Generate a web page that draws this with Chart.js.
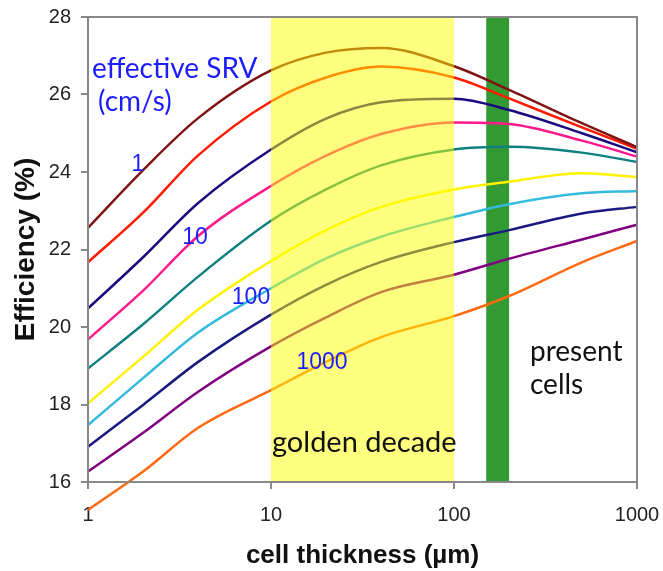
<!DOCTYPE html>
<html>
<head>
<meta charset="utf-8">
<script src="https://cdn.jsdelivr.net/npm/chart.js@4.4.1/dist/chart.umd.min.js"></script>
<style>
  html, body { margin: 0; padding: 0; background: #fff; }
  #wrap { width: 663px; height: 571px; }
</style>
</head>
<body>
<div id="wrap"><canvas id="eff" width="663" height="571"></canvas></div>
<script>
// cell thickness (um) sampled along the log axis
const thickness = [1, 2, 4, 10, 20, 40, 100, 200, 500, 1000];

// efficiency (%) per effective SRV (cm/s)
const srv1    = [22.56, 24.05, 25.39, 26.62, 27.08, 27.20, 26.73, 26.12, 25.26, 24.64];
const srv2    = [21.67, 22.95, 24.43, 25.82, 26.44, 26.72, 26.44, 25.90, 25.15, 24.60];
const srv5    = [20.48, 21.80, 23.20, 24.58, 25.38, 25.80, 25.89, 25.60, 25.00, 24.51];
const srv10   = [19.68, 20.94, 22.35, 23.64, 24.42, 24.98, 25.28, 25.24, 24.81, 24.40];
const srv20   = [18.93, 20.07, 21.30, 22.74, 23.55, 24.17, 24.58, 24.65, 24.50, 24.26];
const srv50   = [18.03, 19.23, 20.45, 21.70, 22.50, 23.10, 23.55, 23.75, 23.97, 23.87];
const srv100  = [17.47, 18.68, 19.86, 21.00, 21.77, 22.33, 22.84, 23.17, 23.45, 23.51];
const srv200  = [16.91, 17.99, 19.10, 20.32, 21.09, 21.68, 22.19, 22.50, 22.93, 23.10];
const srv500  = [16.27, 17.27, 18.33, 19.50, 20.25, 20.90, 21.35, 21.76, 22.26, 22.64];
const srv1000 = [15.28, 16.27, 17.40, 18.37, 19.10, 19.74, 20.28, 20.80, 21.67, 22.22];

const srvValues = [1, 2, 5, 10, 20, 50, 100, 200, 500, 1000];
const srvSeries = [srv1, srv2, srv5, srv10, srv20, srv50, srv100, srv200, srv500, srv1000];
const lineColors = ['#801414', '#ff1a00', '#1a0a80', '#ff1a8c', '#108080',
                    '#fff200', '#33bbdd', '#1a1a80', '#800080', '#ff6a10'];

const xTicks = [1, 10, 100, 1000];
const goldenDecade = [10, 100];
const presentCells = [150, 200];

const tickFont = { family: 'Liberation Sans, Arial, sans-serif', size: 20 };

// green strip (present cells) sits behind the curves
const bandsBehind = {
    id: 'bandsBehind',
    beforeDatasetsDraw(chart) {
        const { ctx, chartArea: a, scales: { x } } = chart;
        ctx.save();
        ctx.fillStyle = '#339933';
        const x0 = x.getPixelForValue(presentCells[0]);
        const x1 = x.getPixelForValue(presentCells[1]);
        ctx.fillRect(x0, a.top, x1 - x0, a.bottom - a.top);
        ctx.restore();
    }
};

// translucent yellow decade over the curves, frame, and text notes
const overlay = {
    id: 'overlay',
    afterDatasetsDraw(chart) {
        const { ctx, chartArea: a, scales: { x } } = chart;
        ctx.save();
        ctx.fillStyle = 'rgba(255, 255, 0, 0.5)';
        const x0 = x.getPixelForValue(goldenDecade[0]);
        const x1 = x.getPixelForValue(goldenDecade[1]);
        ctx.fillRect(x0, a.top, x1 - x0, a.bottom - a.top);

        ctx.strokeStyle = '#888';
        ctx.lineWidth = 2;
        ctx.strokeRect(a.left, a.top, a.right - a.left, a.bottom - a.top);

        ctx.textBaseline = 'middle';
        ctx.textAlign = 'left';
        ctx.fillStyle = '#1c1cff';
        ctx.font = '28px Lato, "Open Sans", sans-serif';
        ctx.fillText('effective SRV', 92, 69);
        ctx.fillText('(cm/s)', 98, 102);

        ctx.textAlign = 'center';
        ctx.font = '23px "Liberation Sans", Arial, sans-serif';
        ctx.fillText('1', 138, 165);
        ctx.fillText('10', 195, 238);
        ctx.fillText('100', 251, 298);
        ctx.fillText('1000', 322, 363);

        ctx.fillStyle = '#111';
        ctx.textAlign = 'left';
        ctx.font = '29px Lato, "Open Sans", sans-serif';
        ctx.fillText('golden decade', 272, 443);
        ctx.font = '28px Lato, "Open Sans", sans-serif';
        ctx.fillText('present', 530, 352);
        ctx.fillText('cells', 530, 385);
        ctx.restore();
    }
};

const datasets = srvSeries.map((vals, i) => ({
    label: srvValues[i] + ' cm/s',
    data: thickness.map((t, j) => ({ x: t, y: vals[j] })),
    borderColor: lineColors[i],
    borderWidth: 2.5,
    pointRadius: 0,
    fill: false,
    cubicInterpolationMode: 'monotone',
    clip: false
}));

new Chart(document.getElementById('eff'), {
    type: 'line',
    data: { datasets },
    options: {
        responsive: false,
        animation: false,
        layout: { padding: { top: 17, right: 26, left: 0, bottom: 0 } },
        plugins: { legend: { display: false }, tooltip: { enabled: false } },
        scales: {
            x: {
                type: 'logarithmic',
                min: 1,
                max: 1000,
                afterBuildTicks: axis => { axis.ticks = xTicks.map(v => ({ value: v })); },
                afterFit: s => { s.height = 89; s.paddingLeft = 0; s.paddingRight = 0; },
                ticks: {
                    autoSkip: false,
                    maxRotation: 0,
                    padding: 14,
                    color: '#222',
                    font: tickFont,
                    callback: v => String(v)
                },
                grid: { drawOnChartArea: false, tickLength: 7, color: '#888', lineWidth: 2 },
                border: { color: '#888', width: 2 },
                title: {
                    display: true, text: 'cell thickness (µm)', color: '#111',
                    font: { family: 'Liberation Sans, Arial, sans-serif', size: 26, weight: 'bold' },
                    padding: { top: 0, bottom: 0 }
                }
            },
            y: {
                min: 16,
                max: 28,
                afterFit: s => { s.width = 88; s.paddingTop = 0; s.paddingBottom = 0; },
                ticks: { stepSize: 2, padding: 10, color: '#222', font: tickFont },
                grid: { drawOnChartArea: false, tickLength: 7, color: '#888', lineWidth: 2 },
                border: { color: '#888', width: 2 },
                title: {
                    display: true, text: 'Efficiency (%)', color: '#111',
                    font: { family: 'Liberation Sans, Arial, sans-serif', size: 28, weight: 'bold' },
                    padding: { top: 9, bottom: 0 }
                }
            }
        }
    },
    plugins: [bandsBehind, overlay]
});
</script>
</body>
</html>
